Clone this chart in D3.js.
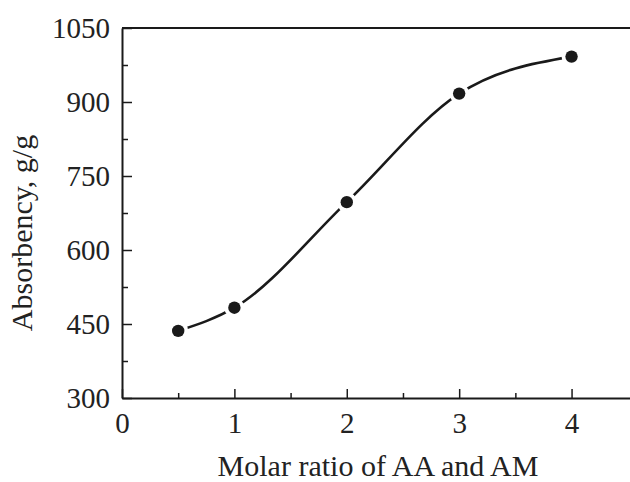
<!DOCTYPE html>
<html>
<head>
  <meta charset="utf-8" />
  <title>Absorbency vs molar ratio</title>
  <style>
    body { margin: 0; background: #fff; }
    svg { display: block; }
    text { font-family: "Liberation Serif", "Times New Roman", serif; fill: #222; }
  </style>
</head>
<body>
  <svg id="chart" width="630" height="482"></svg>
  <script src="https://cdnjs.cloudflare.com/ajax/libs/d3/7.8.5/d3.min.js"></script>
  <script>
    // data
    const ratios = [0.5, 1, 2, 3, 4]
    const absorbency = [436, 483, 697, 917, 992]

    const xTicks = [0, 1, 2, 3, 4]
    const xMinor = [0.5, 1.5, 2.5, 3.5]
    const yTicks = [300, 450, 600, 750, 900, 1050]
    const yMinor = [375, 525, 675, 825, 975]

    const width = 630
    const height = 482
    const plotLeft = 122, plotTop = 28, plotBottom = 398

    const svg = d3.select('#chart')
    const ink = '#1a1a1a'

    const x = d3.scaleLinear().domain([0, 4.52]).range([plotLeft, width])
    const y = d3.scaleLinear().domain([300, 1050]).range([plotBottom, plotTop])

    // top frame line
    svg.append('line')
      .attr('x1', plotLeft).attr('x2', width)
      .attr('y1', plotTop).attr('y2', plotTop)
      .attr('stroke', ink).attr('stroke-width', 2)

    // x axis, ticks pointing inward
    const gx = svg.append('g').attr('transform', `translate(0,${plotBottom})`)
    gx.call(d3.axisBottom(x).tickValues(xTicks).tickFormat(d3.format('d'))
      .tickSizeInner(-9).tickSizeOuter(0).tickPadding(14))
    svg.append('g').attr('transform', `translate(0,${plotBottom})`)
      .call(d3.axisBottom(x).tickValues(xMinor).tickFormat('').tickSizeInner(-5).tickSizeOuter(0))
      .select('.domain').remove()

    // y axis
    const gy = svg.append('g').attr('transform', `translate(${plotLeft},0)`)
    gy.call(d3.axisLeft(y).tickValues(yTicks).tickFormat(d3.format('d'))
      .tickSizeInner(-10).tickSizeOuter(0).tickPadding(12))
    svg.append('g').attr('transform', `translate(${plotLeft},0)`)
      .call(d3.axisLeft(y).tickValues(yMinor).tickFormat('').tickSizeInner(-6).tickSizeOuter(0))
      .select('.domain').remove()

    svg.selectAll('.domain').attr('stroke', ink).attr('stroke-width', 2)
    svg.selectAll('.tick line').attr('stroke', ink).attr('stroke-width', 1.5)
    svg.selectAll('.tick text').attr('font-size', 29)
      .attr('font-family', '"Liberation Serif", serif').attr('fill', '#222')

    // axis titles
    svg.append('text')
      .attr('x', 378).attr('y', 476)
      .attr('text-anchor', 'middle')
      .attr('font-size', 30)
      .text('Molar ratio of AA and AM')

    svg.append('text')
      .attr('transform', 'translate(32,233) rotate(-90)')
      .attr('text-anchor', 'middle')
      .attr('font-size', 30)
      .text('Absorbency, g/g')

    // smooth curve through the points
    const pts = ratios.map((r, i) => [r, absorbency[i]])
    const line = d3.line()
      .x(d => x(d[0]))
      .y(d => y(d[1]))
      .curve(d3.curveMonotoneX)

    svg.append('path')
      .attr('d', line(pts))
      .attr('fill', 'none')
      .attr('stroke', ink)
      .attr('stroke-width', 2.6)

    // white halo then marker
    svg.selectAll('.halo').data(pts).join('circle')
      .attr('class', 'halo')
      .attr('cx', d => x(d[0])).attr('cy', d => y(d[1]))
      .attr('r', 10).attr('fill', '#fff')

    svg.selectAll('.dot').data(pts).join('circle')
      .attr('class', 'dot')
      .attr('cx', d => x(d[0])).attr('cy', d => y(d[1]))
      .attr('r', 6.2).attr('fill', ink)
  </script>
</body>
</html>
